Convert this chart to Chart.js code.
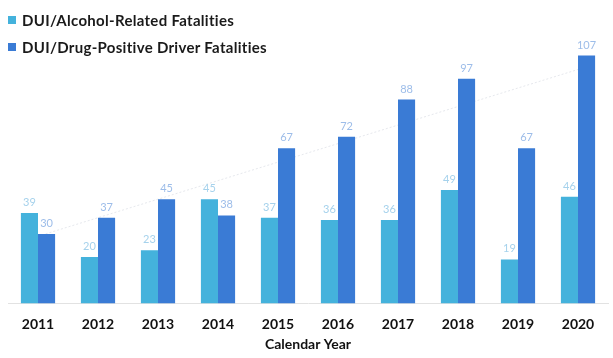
<!DOCTYPE html>
<html>
<head>
<meta charset="utf-8">
<script src="https://cdn.jsdelivr.net/npm/chart.js@4"></script>
<style>
    body { margin: 0; background: #fff; }
    #wrap { position: relative; width: 613px; height: 358px; }
    .legend-item {
        position: absolute;
        left: 8px;
        font: bold 15px Lato, sans-serif;
        letter-spacing: 0.3px;
        color: #1a1a1a;
        white-space: nowrap;
    }
    .legend-item span {
        display: inline-block;
        width: 8px;
        height: 8px;
        margin-right: 6px;
        vertical-align: 2px;
    }
</style>
</head>
<body>
<div id="wrap">
    <canvas id="chart" width="613" height="358"></canvas>
    <div class="legend-item" style="top: 11px;"><span style="background:#44b2dc"></span>DUI/Alcohol-Related Fatalities</div>
    <div class="legend-item" style="top: 38px;"><span style="background:#3a7bd5"></span>DUI/Drug-Positive Driver Fatalities</div>
</div>
<script>
// Chart data
const years = ['2011', '2012', '2013', '2014', '2015', '2016', '2017', '2018', '2019', '2020'];
const alcoholFatalities = [39, 20, 23, 45, 37, 36, 36, 49, 19, 46];
const drugFatalities = [30, 37, 45, 38, 67, 72, 88, 97, 67, 107];
// faint trend line, only its two ends
const drugTrend = [29, null, null, null, null, null, null, null, null, 101];

const labelColors = ['#a6d2ec', '#9dbde9'];

// Draw value labels above each bar
const barLabels = {
    id: 'barLabels',
    afterDatasetsDraw(chart) {
        const ctx = chart.ctx;
        ctx.save();
        ctx.font = '11px Lato, sans-serif';
        ctx.textAlign = 'center';
        ctx.textBaseline = 'bottom';
        [0, 1].forEach(i => {
            const meta = chart.getDatasetMeta(i);
            ctx.fillStyle = labelColors[i];
            meta.data.forEach((bar, j) => {
                ctx.fillText(chart.data.datasets[i].data[j], bar.x, bar.y - 5);
            });
        });
        ctx.restore();
    }
};

new Chart(document.getElementById('chart'), {
    type: 'bar',
    data: {
        labels: years,
        datasets: [{
            label: 'DUI/Alcohol-Related Fatalities',
            data: alcoholFatalities,
            backgroundColor: '#44b2dc',
            barPercentage: 1,
            categoryPercentage: 0.57
        }, {
            label: 'DUI/Drug-Positive Driver Fatalities',
            data: drugFatalities,
            backgroundColor: '#3a7bd5',
            barPercentage: 1,
            categoryPercentage: 0.57
        }, {
            type: 'line',
            label: 'Trend',
            data: drugTrend,
            spanGaps: true,
            borderColor: 'rgba(205, 210, 220, 0.5)',
            borderWidth: 1,
            borderDash: [2, 2],
            pointRadius: 0,
            order: 5
        }]
    },
    options: {
        responsive: false,
        animation: false,
        layout: {
            padding: { left: 8, right: 5, top: 0, bottom: 5 }
        },
        plugins: {
            legend: { display: false },
            tooltip: { enabled: false }
        },
        scales: {
            x: {
                grid: { display: false },
                border: { color: '#e2e2e2' },
                ticks: {
                    color: '#111',
                    padding: 5,
                    font: { family: 'Lato', size: 14, weight: 'bold' }
                },
                title: {
                    display: true,
                    text: 'Calendar Year',
                    color: '#111',
                    padding: { top: -2, bottom: 0 },
                    font: { family: 'Lato', size: 14, weight: 'bold' }
                }
            },
            y: {
                display: false,
                min: 0,
                max: 131
            }
        }
    },
    plugins: [barLabels]
});
</script>
</body>
</html>
